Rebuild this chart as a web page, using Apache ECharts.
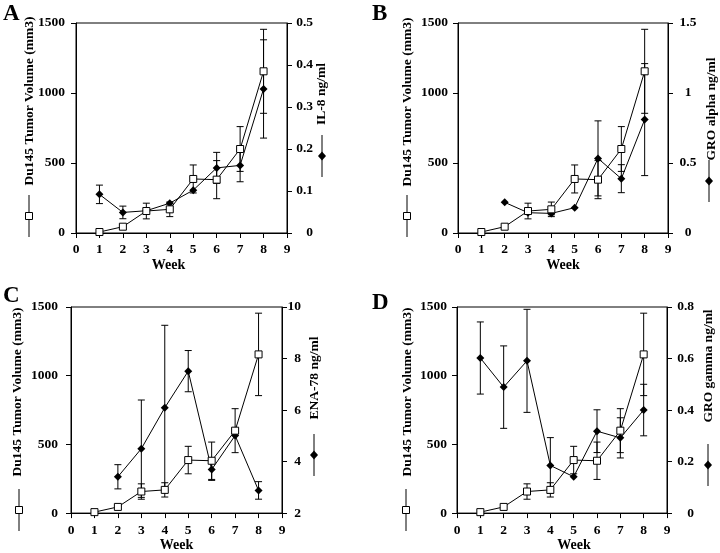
<!DOCTYPE html>
<html>
<head>
<meta charset="utf-8">
<script src="https://cdn.jsdelivr.net/npm/echarts@6/dist/echarts.min.js"></script>
<style>
html,body{margin:0;padding:0;background:#fff;}
#chart{width:720px;height:553px;}
</style>
</head>
<body>
<div id="chart"></div>
<script>
// ---------- DATA ----------
const weeks = [1, 2, 3, 4, 5, 6, 7, 8];
const weekTicks = [0, 1, 2, 3, 4, 5, 6, 7, 8, 9];

const tumorVolume = [7, 45, 157, 169, 386, 381, 600, 1155];
const tumorErr    = [0, 0, 56, 52, 100, 136, 160, 300];
const tumorTicks  = [0, 500, 1000, 1500];

const il8      = [0.092, 0.049, 0.053, 0.071, 0.102, 0.155, 0.161, 0.343];
const il8Err   = [0.022, 0.015, 0, 0, 0, 0.037, 0.039, 0.117];
const il8Ticks = [0, 0.1, 0.2, 0.3, 0.4, 0.5];

const groAlpha      = [null, 0.219, 0.145, 0.14, 0.181, 0.533, 0.388, 0.81];
const groAlphaErr   = [0, 0, 0, 0.01, 0, 0.268, 0.1, 0.4];
const groAlphaTicks = [0, 0.5, 1, 1.5];

const ena78      = [null, 3.41, 4.50, 6.09, 7.51, 3.69, 5.01, 2.88];
const ena78Err   = [0, 0.47, 1.89, 3.2, 0.8, 0.42, 0, 0.34];
const ena78Ticks = [2, 4, 6, 8, 10];

const groGamma      = [0.602, 0.489, 0.591, 0.185, 0.141, 0.318, 0.292, 0.4];
const groGammaErr   = [0.14, 0.16, 0.2, 0.108, 0, 0.083, 0.078, 0.1];
const groGammaTicks = [0, 0.2, 0.4, 0.6, 0.8];

const panelLetters = ['A', 'B', 'C', 'D'];
const leftTitle  = 'Du145 Tumor Volume (mm3)';
const rightTitles = ['IL-8 ng/ml', 'GRO alpha ng/ml', 'ENA-78 ng/ml', 'GRO gamma ng/ml'];
const xTitle = 'Week';

// ---------- LAYOUT ----------
const FONT = '"Liberation Serif", "Times New Roman", serif';
const panels = [
  { grid: {left: 76, top: 23, width: 211, height: 210}, chem: il8, chemErr: il8Err, ticks: il8Ticks,
    rAlign: 'right', rMargin: 26, lMargin: 11, weekPad: [0, 26, 0, 0],
    letterPos: [3, 3], lTitle: [30, 101], lKey: [29, 216], rTitle: [322, 94], rKey: [322, 156] },
  { grid: {left: 458, top: 23, width: 210, height: 210}, chem: groAlpha, chemErr: groAlphaErr, ticks: groAlphaTicks,
    rAlign: 'center', rMargin: 20, lMargin: 10, weekPad: [0, 0, 0, 0],
    letterPos: [372, 3], lTitle: [408, 102], lKey: [407, 216], rTitle: [712, 109], rKey: [709, 181] },
  { grid: {left: 71, top: 307, width: 211, height: 210}, chem: ena78, chemErr: ena78Err, ticks: ena78Ticks,
    rAlign: 'right', rMargin: 19, lMargin: 13, weekPad: [0, 0, 0, 0],
    letterPos: [3, 285], lTitle: [18, 392], lKey: [19, 510], rTitle: [315, 378], rKey: [314, 455] },
  { grid: {left: 457, top: 307, width: 210, height: 210}, chem: groGamma, chemErr: groGammaErr, ticks: groGammaTicks,
    rAlign: 'right', rMargin: 27, lMargin: 10, weekPad: [0, 0, 0, 24],
    letterPos: [372, 292], lTitle: [408, 392], lKey: [406, 510], rTitle: [709, 366], rKey: [708, 465] }
];

const labelStyle = {color: '#000', fontFamily: FONT, fontWeight: 'bold', fontSize: 13.5};
const lineStyleAxis = {color: '#000', width: 1};
const fmt = v => String(+(+v).toFixed(6));

function errRender(params, api) {
  const x = api.value(0), y = api.value(1), e = api.value(2);
  if (y == null || isNaN(y) || !e) return null;
  const top = api.coord([x, y + e]);
  const bot = api.coord([x, y - e]);
  const hw = 3.5;
  const st = {stroke: '#000', lineWidth: 1};
  return {type: 'group', children: [
    {type: 'line', shape: {x1: top[0], y1: top[1], x2: bot[0], y2: bot[1]}, style: st},
    {type: 'line', shape: {x1: top[0] - hw, y1: top[1], x2: top[0] + hw, y2: top[1]}, style: st},
    {type: 'line', shape: {x1: bot[0] - hw, y1: bot[1], x2: bot[0] + hw, y2: bot[1]}, style: st}
  ]};
}

const grid = [], xAxis = [], yAxis = [], series = [], graphic = [];
panels.forEach((p, i) => {
  grid.push(Object.assign({show: true, borderColor: '#000', borderWidth: 1, backgroundColor: 'transparent'}, p.grid));
  xAxis.push({
    type: 'value', gridIndex: i, min: weekTicks[0], max: weekTicks[weekTicks.length - 1], interval: weekTicks[1] - weekTicks[0],
    axisLine: {show: true, onZero: false, lineStyle: lineStyleAxis},
    axisTick: {show: true, inside: false, length: 5, lineStyle: lineStyleAxis},
    axisLabel: Object.assign({margin: 10, formatter: fmt}, labelStyle),
    splitLine: {show: false},
    name: xTitle, nameLocation: 'middle', nameGap: 21,
    nameTextStyle: {color: '#000', fontFamily: FONT, fontWeight: 'bold', fontSize: 14, padding: p.weekPad}
  });
  yAxis.push({
    type: 'value', gridIndex: i, position: 'left',
    min: tumorTicks[0], max: tumorTicks[tumorTicks.length - 1], interval: tumorTicks[1] - tumorTicks[0],
    axisLine: {show: true, lineStyle: lineStyleAxis},
    axisTick: {show: true, length: 5, lineStyle: lineStyleAxis},
    axisLabel: Object.assign({margin: p.lMargin, formatter: fmt}, labelStyle),
    splitLine: {show: false}
  });
  yAxis.push({
    type: 'value', gridIndex: i, position: 'right',
    min: p.ticks[0], max: p.ticks[p.ticks.length - 1], interval: p.ticks[1] - p.ticks[0],
    axisLine: {show: true, lineStyle: lineStyleAxis},
    axisTick: {show: true, length: 5, lineStyle: lineStyleAxis},
    axisLabel: Object.assign({margin: p.rMargin, align: p.rAlign, formatter: fmt}, labelStyle),
    splitLine: {show: false}
  });
  const yl = i * 2, yr = i * 2 + 1;
  series.push({
    type: 'custom', xAxisIndex: i, yAxisIndex: yl, renderItem: errRender, z: 2,
    encode: {x: 0, y: 1}, silent: true,
    data: weeks.map((w, k) => [w, tumorVolume[k], tumorErr[k]])
  });
  series.push({
    type: 'custom', xAxisIndex: i, yAxisIndex: yr, renderItem: errRender, z: 2,
    encode: {x: 0, y: 1}, silent: true,
    data: weeks.map((w, k) => [w, p.chem[k], p.chemErr[k]]).filter(d => d[1] != null)
  });
  series.push({
    type: 'line', xAxisIndex: i, yAxisIndex: yr, z: 3,
    data: weeks.map((w, k) => [w, p.chem[k]]).filter(d => d[1] != null),
    symbol: 'diamond', symbolSize: 8, showAllSymbol: true,
    lineStyle: {color: '#000', width: 1}, itemStyle: {color: '#000', borderWidth: 0},
    animation: false
  });
  series.push({
    type: 'line', xAxisIndex: i, yAxisIndex: yl, z: 4,
    data: weeks.map((w, k) => [w, tumorVolume[k]]),
    symbol: 'rect', symbolSize: 7, showAllSymbol: true,
    lineStyle: {color: '#000', width: 1}, itemStyle: {color: '#fff', borderColor: '#000', borderWidth: 1},
    animation: false
  });

  graphic.push({type: 'text', x: p.letterPos[0], y: p.letterPos[1],
    style: {text: panelLetters[i], font: 'bold 23px ' + FONT, fill: '#000', textVerticalAlign: 'top'}});
  graphic.push({type: 'text', x: p.lTitle[0], y: p.lTitle[1], rotation: Math.PI / 2,
    style: {text: leftTitle, font: 'bold 13.5px ' + FONT, fill: '#000', textAlign: 'center', textVerticalAlign: 'middle'}});
  graphic.push({type: 'text', x: p.rTitle[0], y: p.rTitle[1], rotation: Math.PI / 2,
    style: {text: rightTitles[i], font: 'bold 13.5px ' + FONT, fill: '#000', textAlign: 'center', textVerticalAlign: 'middle'}});
  graphic.push({type: 'group', children: [
    {type: 'line', shape: {x1: p.lKey[0], y1: p.lKey[1] - 21, x2: p.lKey[0], y2: p.lKey[1] + 21}, style: {stroke: '#000', lineWidth: 1}},
    {type: 'rect', shape: {x: p.lKey[0] - 3.5, y: p.lKey[1] - 3.5, width: 7, height: 7}, style: {fill: '#fff', stroke: '#000', lineWidth: 1}}
  ]});
  graphic.push({type: 'group', children: [
    {type: 'line', shape: {x1: p.rKey[0], y1: p.rKey[1] - 21, x2: p.rKey[0], y2: p.rKey[1] + 21}, style: {stroke: '#000', lineWidth: 1}},
    {type: 'polygon', shape: {points: [[p.rKey[0], p.rKey[1] - 4.5], [p.rKey[0] + 4, p.rKey[1]], [p.rKey[0], p.rKey[1] + 4.5], [p.rKey[0] - 4, p.rKey[1]]]}, style: {fill: '#000'}}
  ]});
});

const chart = echarts.init(document.getElementById('chart'), null, {renderer: 'canvas'});
chart.setOption({
  backgroundColor: '#fff',
  animation: false,
  grid, xAxis, yAxis, series, graphic
});
</script>
</body>
</html>
